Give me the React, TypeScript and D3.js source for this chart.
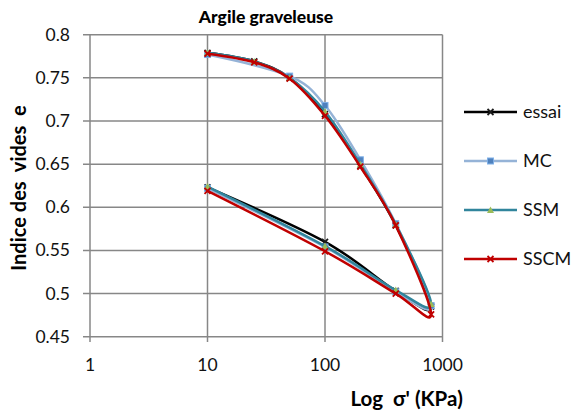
import React from "react";
import * as d3 from "d3";

const stress = [10, 25, 50, 100, 200, 400, 800, 400, 100, 10];
const essai = [0.779, 0.769, 0.750, 0.708, 0.648, 0.579, 0.485, 0.503, 0.560, 0.623];
const mcStress = [10, 50, 100, 200, 400, 800, 400, 100, 10];
const mc = [0.777, 0.752, 0.718, 0.655, 0.581, 0.486, 0.502, 0.554, 0.622];
const ssm = [0.779, 0.769, 0.750, 0.711, 0.650, 0.580, 0.488, 0.504, 0.555, 0.624];
const sscm = [0.778, 0.768, 0.749, 0.706, 0.647, 0.579, 0.476, 0.500, 0.549, 0.619];
const yTicks = [0.45, 0.5, 0.55, 0.6, 0.65, 0.7, 0.75, 0.8];
const xTicks = [1, 10, 100, 1000];

const series = [
  { name: "essai", xs: stress, ys: essai, color: "#000000", marker: "x", mcolor: "#1a1a1a" },
  { name: "MC", xs: mcStress, ys: mc, color: "#95B3D7", marker: "square", mcolor: "#4F81BD" },
  { name: "SSM", xs: stress, ys: ssm, color: "#31859C", marker: "triangle", mcolor: "#9BBB59" },
  { name: "SSCM", xs: stress, ys: sscm, color: "#C00000", marker: "x", mcolor: "#C00000" },
];

const font = "Lato, 'Open Sans', sans-serif";

function Marker({ type, x, y, color }: { type: string; x: number; y: number; color: string }) {
  if (type === "square")
    return <rect x={x - 3} y={y - 3} width={6} height={6} fill={color} stroke="#7FB0E8" strokeWidth={1} />;
  if (type === "triangle")
    return <path d={`M${x},${y - 3.5}L${x + 3.5},${y + 3}L${x - 3.5},${y + 3}Z`} fill={color} />;
  return (
    <path d={`M${x - 3},${y - 3}L${x + 3},${y + 3}M${x - 3},${y + 3}L${x + 3},${y - 3}`} stroke={color} strokeWidth={1.8} />
  );
}

export default function App() {
  const x = d3.scaleLog().domain([1, 1000]).range([90, 442.5]);
  const y = d3.scaleLinear().domain([0.45, 0.8]).range([336.7, 34.7]);
  const line = d3
    .line<[number, number]>()
    .x((d) => x(d[0]))
    .y((d) => y(d[1]))
    .curve(d3.curveCatmullRom.alpha(0));
  const grid = "#878787";
  const legendY = [112, 161, 210, 259];
  return (
    <svg width={571} height={415} style={{ position: "absolute", left: 0, top: 0 }}>
      <rect width={571} height={415} fill="#fff" />
      {yTicks.map((t) => (
        <g key={t}>
          <line x1={83} x2={442.5} y1={y(t)} y2={y(t)} stroke={grid} strokeWidth={1.5} />
          <text x={70} y={y(t) + 6} textAnchor="end" fontFamily={font} fontSize={17.5} fill="#111">
            {String(t)}
          </text>
        </g>
      ))}
      {xTicks.map((t) => (
        <g key={t}>
          <line x1={x(t)} x2={x(t)} y1={34.7} y2={342} stroke={grid} strokeWidth={1.5} />
          <text x={x(t)} y={371} textAnchor="middle" fontFamily={font} fontSize={17.5} fill="#111">
            {t}
          </text>
        </g>
      ))}
      {series.map((s) => {
        const pts = s.xs.map((v, i) => [v, s.ys[i]] as [number, number]);
        return (
          <g key={s.name}>
            <path d={line(pts) || ""} fill="none" stroke={s.color} strokeWidth={2.5} />
            {pts.map((p, i) => (
              <Marker key={i} type={s.marker} x={x(p[0])} y={y(p[1])} color={s.mcolor} />
            ))}
          </g>
        );
      })}
      <text x={266} y={23} textAnchor="middle" fontFamily={font} fontSize={17.5} fontWeight="900" fill="#000">
        Argile graveleuse
      </text>
      <text
        transform="translate(26,188) rotate(-90)"
        textAnchor="middle"
        fontFamily={font}
        fontSize={20}
        fontWeight="bold"
        fill="#000"
        xmlSpace="preserve"
        style={{ whiteSpace: "pre" }}
      >
        {"Indice des  vides  e"}
      </text>
      <text x={463} y={406} textAnchor="end" fontFamily={font} fontSize={20.5} fontWeight="bold" fill="#000" xmlSpace="preserve" style={{ whiteSpace: "pre" }}>
        {"Log  σ' (KPa)"}
      </text>
      {series.map((s, i) => (
        <g key={s.name}>
          <line x1={464} x2={517} y1={legendY[i]} y2={legendY[i]} stroke={s.color} strokeWidth={2.5} />
          <Marker type={s.marker} x={490.5} y={legendY[i]} color={s.mcolor} />
          <text x={523} y={legendY[i] + 6} fontFamily={font} fontSize={18} fill="#111">
            {s.name}
          </text>
        </g>
      ))}
    </svg>
  );
}
